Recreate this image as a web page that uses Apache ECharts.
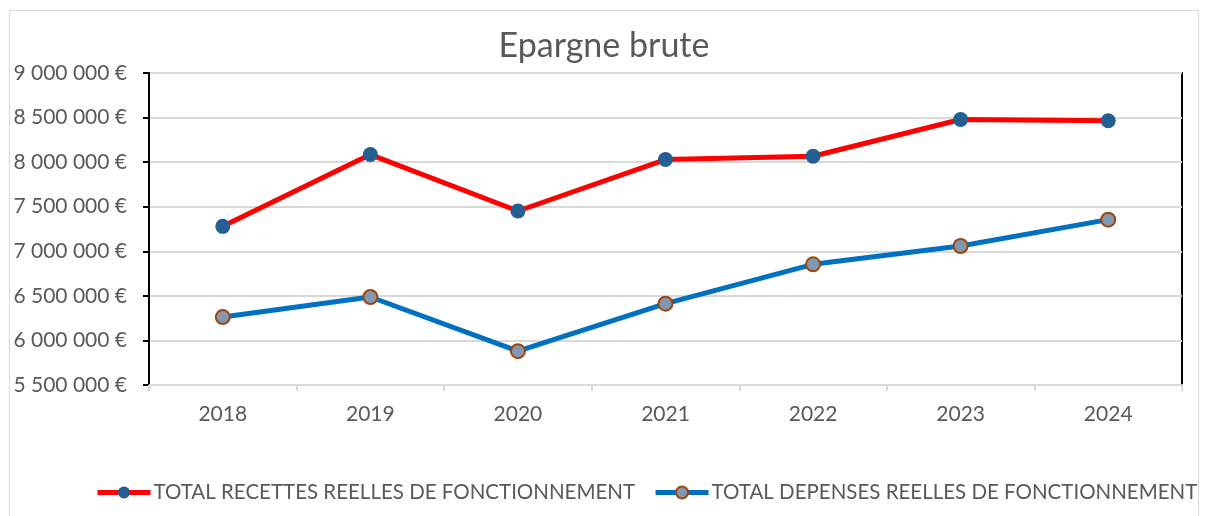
<!DOCTYPE html>
<html>
<head>
<meta charset="utf-8">
<script src="https://cdn.jsdelivr.net/npm/echarts@6/dist/echarts.min.js"></script>
<style>
  html, body { margin: 0; padding: 0; background: #fff; }
  #chart { width: 1208px; height: 516px; }
</style>
</head>
<body>
<div id="chart"></div>
<script>
var years = ['2018', '2019', '2020', '2021', '2022', '2023', '2024'];
var recettes = [7280000, 8085000, 7452000, 8029000, 8066000, 8478000, 8465000];
var depenses = [6262000, 6487000, 5880000, 6412000, 6854000, 7059000, 7355000];
var yTicks = [5500000, 9000000, 500000]; // min, max, interval

var font = 'Lato';
var grey = '#595959';

function euro(v) {
  return String(v).replace(/\B(?=(\d{3})+(?!\d))/g, ' ') + ' €';
}

var chart = echarts.init(document.getElementById('chart'));
var option = {
  backgroundColor: '#ffffff',
  animation: false,
  title: {
    text: 'Epargne brute',
    left: 'center',
    top: 24,
    textStyle: { fontFamily: font, fontSize: 34, fontWeight: 'normal', color: grey }
  },
  graphic: [{
    type: 'rect',
    shape: { x: 9.5, y: 10.5, width: 1189, height: 520 },
    style: { fill: 'none', stroke: '#d9d9d9', lineWidth: 1 },
    silent: true
  }],
  legend: {
    bottom: 8,
    left: 90,
    itemGap: 18,
    itemWidth: 53,
    itemHeight: 15,
    lineStyle: { width: 5 },
    textStyle: { fontFamily: font, fontSize: 20.5, color: grey, padding: [0, 0, 0, -2] }
  },
  grid: {
    left: 149, right: 26, top: 73, bottom: 131,
    show: true, borderColor: '#000', borderWidth: 2
  },
  xAxis: {
    type: 'category',
    data: years,
    boundaryGap: true,
    axisLine: { lineStyle: { color: '#d9d9d9', width: 2 } },
    axisTick: { show: true, length: 6, lineStyle: { color: '#d9d9d9', width: 2 } },
    axisLabel: { fontFamily: font, fontSize: 21, color: grey, margin: 19 }
  },
  yAxis: {
    type: 'value',
    min: yTicks[0],
    max: yTicks[1],
    interval: yTicks[2],
    axisLine: { show: true, lineStyle: { color: '#000', width: 2 } },
    axisTick: { show: true, length: 6, lineStyle: { color: '#000', width: 2 } },
    splitLine: { lineStyle: { color: '#d9d9d9', width: 2 } },
    axisLabel: { fontFamily: font, fontSize: 21, color: grey, margin: 22, formatter: euro }
  },
  series: [{
    name: 'TOTAL RECETTES REELLES DE FONCTIONNEMENT',
    type: 'line',
    data: recettes,
    symbol: 'circle',
    symbolSize: 15,
    lineStyle: { color: '#ff0000', width: 5 },
    itemStyle: { color: '#255e91', borderWidth: 0 }
  }, {
    name: 'TOTAL DEPENSES REELLES DE FONCTIONNEMENT',
    type: 'line',
    data: depenses,
    symbol: 'circle',
    symbolSize: 14,
    lineStyle: { color: '#0070c0', width: 5 },
    itemStyle: { color: '#8497b0', borderColor: '#9e480e', borderWidth: 2 }
  }]
};
chart.setOption(option);
</script>
</body>
</html>
